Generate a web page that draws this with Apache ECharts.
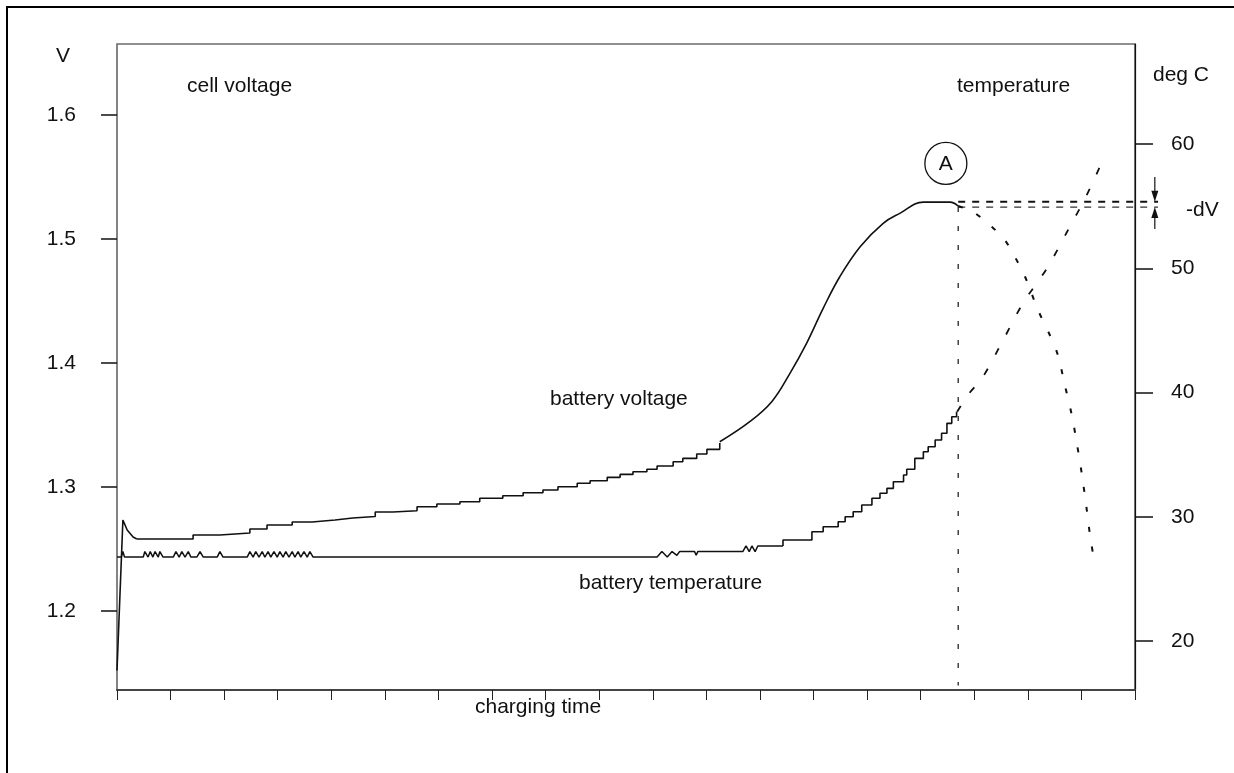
<!DOCTYPE html>
<html>
<head>
<meta charset="utf-8">
<title>NiCd charging: -dV detection</title>
<script src="https://cdn.jsdelivr.net/npm/echarts@6/dist/echarts.min.js"></script>
<style>
    html, body { margin: 0; padding: 0; background: #fff; }
    #chart { width: 1234px; height: 773px; }
</style>
</head>
<body>
<div id="chart"></div>
<script>
// charging time in arbitrary units (one tick = 10), voltage in V, temperature in deg C
var timeTicks = [0, 190, 10];
var voltTicks = [1.2, 1.3, 1.4, 1.5, 1.6];
var tempTicks = [20, 30, 40, 50, 60];

var voltRise = [[0, 1.152], [1.1, 1.2734], [1.9, 1.2653], [3.0, 1.2597], [3.7, 1.2581]];
var voltSteps = [
    [3.7, 1.2581], [14.2, 1.2613], [19.2, 1.2629], [24.8, 1.2661], [28.0, 1.2694],
    [32.7, 1.2718], [36.4, 1.2734], [40.7, 1.2750], [44.0, 1.2762], [48.2, 1.2798],
    [51.5, 1.2809], [56.0, 1.2841], [59.7, 1.2863], [64.0, 1.2881], [67.7, 1.2909],
    [72.0, 1.2930], [75.8, 1.2954], [79.5, 1.2976], [82.3, 1.3002], [85.9, 1.3030],
    [88.3, 1.3051], [91.5, 1.3078], [93.9, 1.3102], [96.3, 1.3123], [98.9, 1.3143],
    [100.8, 1.3169], [103.8, 1.3204], [105.6, 1.3231], [108.2, 1.3266], [110.1, 1.3304],
    [112.5, 1.3355]
];
var voltSteep = [
    [112.5, 1.3365], [118.1, 1.3527], [122.2, 1.3688], [125.6, 1.3917], [128.7, 1.4159],
    [131.8, 1.4441], [134.9, 1.4696], [138.7, 1.4938], [143.0, 1.5127], [146.1, 1.5207],
    [150.5, 1.5298], [155.5, 1.5298], [157.0, 1.5266]
];
var voltAfterPeak = [
    [157.0, 1.5266], [159.8, 1.5218], [162.9, 1.5113], [165.7, 1.4992], [167.6, 1.4855],
    [169.5, 1.4694], [171.9, 1.4427], [174.1, 1.4226], [175.6, 1.4065], [176.9, 1.3823],
    [178.2, 1.3581], [179.2, 1.3339], [180.1, 1.3097], [181.0, 1.2815], [181.6, 1.2613],
    [182.2, 1.2452]
];

var tempFlat = [
    [0, 26.76], [0.8, 26.76], [1.1, 27.2], [1.4, 26.76],
    [4.9, 26.76], [5.2, 27.2], [5.8, 26.76], [6.2, 27.2], [6.7, 26.76], [7.1, 27.2], [7.7, 26.76], [8.0, 27.2], [8.6, 26.76],
    [10.5, 26.76], [11.0, 27.2], [11.6, 26.76], [12.1, 27.2], [12.7, 26.76], [13.3, 27.2], [13.8, 26.76],
    [14.9, 26.76], [15.5, 27.2], [16.1, 26.76],
    [18.7, 26.76], [19.2, 27.2], [19.8, 26.76],
    [24.3, 26.76], [24.8, 27.2], [25.4, 26.76], [25.9, 27.2], [26.5, 26.76], [27.1, 27.2], [27.6, 26.76],
    [28.2, 27.2], [28.7, 26.76], [29.3, 27.2], [29.9, 26.76], [30.4, 27.2], [31.0, 26.76], [31.5, 27.2],
    [32.1, 26.76], [32.7, 27.2], [33.2, 26.76], [33.8, 27.2], [34.3, 26.76], [34.9, 27.2], [35.5, 26.76],
    [36.0, 27.2], [36.6, 26.76],
    [100.8, 26.76], [101.7, 27.2], [102.7, 26.76], [103.6, 27.2], [104.5, 26.9], [105.0, 27.2],
    [107.8, 27.2], [108.1, 26.9], [108.4, 27.2],
    [116.8, 27.2], [117.4, 27.65], [118.0, 27.2], [118.5, 27.65], [119.1, 27.2], [119.6, 27.65],
    [124.3, 27.65]
];
var tempSteps = [
    [124.3, 27.65], [124.3, 28.13], [129.7, 28.80], [131.8, 29.20], [134.6, 29.60], [135.9, 30.00],
    [137.4, 30.41], [139.0, 30.95], [140.9, 31.49], [142.4, 31.89], [143.7, 32.29], [144.9, 32.82],
    [146.8, 33.36], [147.4, 33.82], [148.9, 34.70], [150.5, 35.24], [151.4, 35.64], [152.7, 36.18],
    [153.9, 36.72], [154.9, 37.52], [155.8, 38.05], [156.7, 38.45]
];
var tempAfterPeak = [
    [156.8, 38.45], [158.8, 39.80], [161.6, 41.25], [165.4, 44.23], [169.1, 47.20],
    [173.6, 50.02], [177.3, 52.92], [181.0, 55.90], [184.4, 59.11]
];

// -dV detection point A
var peakTime = 157.0;
var peakVolt = 1.5301;
var cutoffVolt = 1.5258;
var dvEndTime = 194.3;
var dvArrowTime = 193.7;
var markerA = [154.7, 1.561];

var font = "'Liberation Sans', Arial, sans-serif";
var ink = "#111";

function curve(name, data, yIndex, extra) {
    var s = {
        name: name,
        type: "line",
        data: data,
        yAxisIndex: yIndex,
        symbol: "none",
        silent: true,
        lineStyle: { color: ink, width: 1.6 }
    };
    return Object.assign(s, extra || {});
}

function label(text, left, top) {
    return { type: "text", silent: true, left: left, top: top, style: { text: text, font: "21px " + font, fill: ink } };
}

var option = {
    animation: false,
    backgroundColor: "#fff",
    grid: { left: 117, right: 99, top: 44, bottom: 83, show: true, borderColor: "#222", borderWidth: 1.2 },
    xAxis: {
        type: "value",
        min: timeTicks[0],
        max: timeTicks[1],
        interval: timeTicks[2],
        axisLine: { lineStyle: { color: "#444", width: 2 } },
        axisTick: { show: true, length: 10, lineStyle: { color: "#222", width: 1 } },
        axisLabel: { show: false },
        splitLine: { show: false }
    },
    yAxis: [
        {
            type: "value",
            position: "left",
            min: 1.1363,
            max: 1.6573,
            axisLine: { show: true, lineStyle: { color: "#888", width: 1.5 } },
            axisTick: { show: true, length: 16, customValues: voltTicks, lineStyle: { color: ink, width: 1.5 } },
            axisLabel: {
                customValues: voltTicks,
                margin: 41,
                fontSize: 21,
                fontFamily: font,
                color: ink,
                formatter: function (v) { return v.toFixed(1); }
            },
            splitLine: { show: false }
        },
        {
            type: "value",
            position: "right",
            min: 16.06,
            max: 68.05,
            axisLine: { show: true, lineStyle: { color: ink, width: 1.2 } },
            axisTick: { show: true, length: 18, customValues: tempTicks, lineStyle: { color: ink, width: 1.5 } },
            axisLabel: {
                customValues: tempTicks,
                margin: 36,
                fontSize: 21,
                fontFamily: font,
                color: ink
            },
            splitLine: { show: false }
        }
    ],
    series: [
        curve("battery voltage rise", voltRise, 0),
        curve("battery voltage", voltSteps, 0, { step: "end" }),
        curve("battery voltage top", voltSteep, 0, { smooth: 0.4 }),
        curve("voltage after A", voltAfterPeak, 0, {
            smooth: 0.3,
            lineStyle: { color: ink, width: 2, type: [5, 15] }
        }),
        curve("battery temperature", tempFlat, 1, { lineStyle: { color: ink, width: 1.5 } }),
        curve("battery temperature rise", tempSteps, 1, { step: "end" }),
        curve("temperature after A", tempAfterPeak, 1, {
            smooth: 0.3,
            lineStyle: { color: ink, width: 1.8, type: [7, 16] }
        }),
        curve("A marker", [[peakTime, cutoffVolt], [peakTime, 1.14]], 0, {
            lineStyle: { color: ink, width: 1.2, type: [5, 14] }
        })
    ],
    graphic: [
        { type: "polyline", silent: true, shape: { points: [[7, 773], [7, 7], [1234, 7]] },
          style: { stroke: "#000", lineWidth: 2, fill: null } },
        label("V", 56, 46),
        label("cell voltage", 187, 76),
        label("temperature", 957, 76),
        label("deg C", 1153, 65),
        label("-dV", 1186, 200),
        label("battery voltage", 550, 389),
        label("battery temperature", 579, 573),
        label("charging time", 475, 697)
    ]
};

var chart = echarts.init(document.getElementById("chart"), null, { renderer: "canvas" });
chart.setOption(option);

// annotations placed through the axes (they reach past the right axis)
function px(p) {
    return chart.convertToPixel({ xAxisIndex: 0, yAxisIndex: 0 }, p);
}
var c = px(markerA);
var peakA = px([peakTime, peakVolt]);
var peakB = px([dvEndTime, peakVolt]);
var cutA = px([peakTime, cutoffVolt]);
var cutB = px([dvEndTime, cutoffVolt]);
var topArrowA = px([dvArrowTime, 1.5500]);
var topArrowB = px([dvArrowTime, peakVolt]);
var lowArrowA = px([dvArrowTime, 1.5081]);
var lowArrowB = px([dvArrowTime, cutoffVolt]);

chart.setOption({
    graphic: option.graphic.concat([
        { type: "line", silent: true, shape: { x1: peakA[0], y1: peakA[1], x2: peakB[0], y2: peakB[1] },
          style: { stroke: ink, lineWidth: 2, lineDash: [7, 7] } },
        { type: "line", silent: true, shape: { x1: cutA[0], y1: cutA[1], x2: cutB[0], y2: cutB[1] },
          style: { stroke: "#333", lineWidth: 1.2, lineDash: [7, 7] } },
        { type: "circle", silent: true, shape: { cx: c[0], cy: c[1], r: 21 },
          style: { stroke: ink, lineWidth: 1.3, fill: null } },
        { type: "text", silent: true, x: c[0], y: c[1] + 1,
          style: { text: "A", font: "21px " + font, fill: ink, align: "center", verticalAlign: "middle" } },
        { type: "line", silent: true, shape: { x1: topArrowA[0], y1: topArrowA[1], x2: topArrowB[0], y2: topArrowB[1] - 6 },
          style: { stroke: ink, lineWidth: 1.2 } },
        { type: "polygon", silent: true,
          shape: { points: [[topArrowB[0] - 3.5, topArrowB[1] - 11], [topArrowB[0] + 3.5, topArrowB[1] - 11], [topArrowB[0], topArrowB[1]]] },
          style: { fill: ink } },
        { type: "line", silent: true, shape: { x1: lowArrowA[0], y1: lowArrowA[1], x2: lowArrowB[0], y2: lowArrowB[1] + 6 },
          style: { stroke: ink, lineWidth: 1.2 } },
        { type: "polygon", silent: true,
          shape: { points: [[lowArrowB[0] - 3.5, lowArrowB[1] + 11], [lowArrowB[0] + 3.5, lowArrowB[1] + 11], [lowArrowB[0], lowArrowB[1]]] },
          style: { fill: ink } }
    ])
});
</script>
</body>
</html>
